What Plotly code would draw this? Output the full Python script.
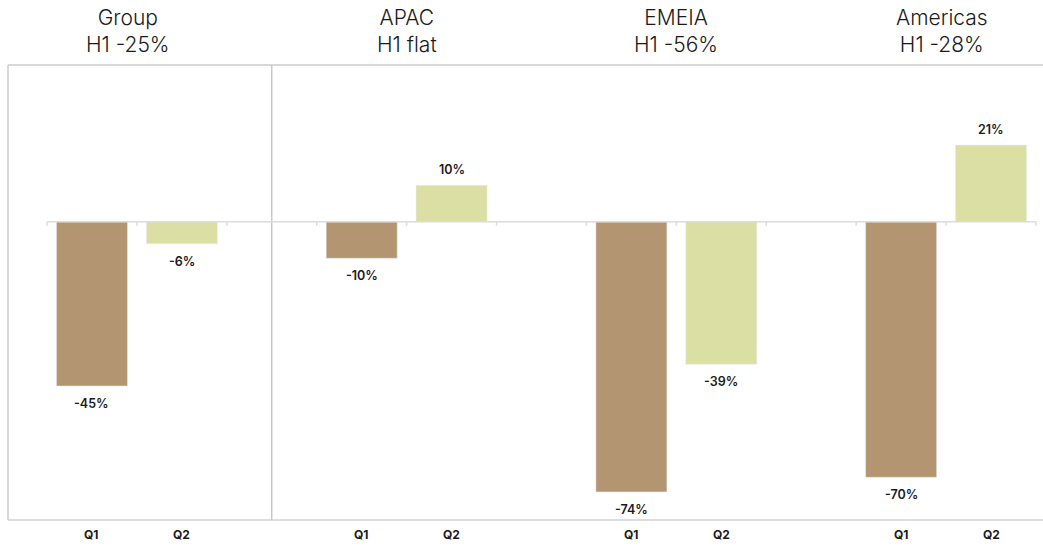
import plotly.graph_objects as go

# Region results by quarter (% change)
regions = ["Group", "APAC", "EMEIA", "Americas"]
h1_labels = ["H1 -25%", "H1 flat", "H1 -56%", "H1 -28%"]
quarters = ["Q1", "Q2"]
q1_values = [-45, -10, -74, -70]
q2_values = [-6, 10, -39, 21]

Q1_COLOR = "#b49571"
Q2_COLOR = "#dbdfa3"
FONT = "Inter"

# each region uses three slots: Q1, Q2 and an empty spacer
slot = 3
x_q1 = [slot * i for i in range(len(regions))]
x_q2 = [slot * i + 1 for i in range(len(regions))]
last = x_q2[-1]

fig = go.Figure()
fig.add_trace(go.Bar(x=x_q1, y=q1_values, marker_color=Q1_COLOR, width=0.79,
                     name="Q1", hoverinfo="y"))
fig.add_trace(go.Bar(x=x_q2, y=q2_values, marker_color=Q2_COLOR, width=0.79,
                     name="Q2", hoverinfo="y"))

annotations = []
# value labels
for xs, vals in ((x_q1, q1_values), (x_q2, q2_values)):
    for x, v in zip(xs, vals):
        annotations.append(dict(
            x=x, y=v, xref="x", yref="y", text=f"{v}%", showarrow=False,
            font=dict(family=FONT, size=12.5, color="#1a1a1a", weight=600),
            yanchor="top" if v < 0 else "bottom",
            yshift=-8 if v < 0 else 6,
        ))
# quarter labels under the axis
for xs, q in ((x_q1, quarters[0]), (x_q2, quarters[1])):
    for x in xs:
        annotations.append(dict(
            x=x, y=0, xref="x", yref="paper", text=q, showarrow=False,
            font=dict(family=FONT, size=12, color="#1a1a1a", weight=700),
            yanchor="middle", yshift=-14,
        ))
# region headers
for i, (r, h) in enumerate(zip(regions, h1_labels)):
    annotations.append(dict(
        x=slot * i + 0.5, y=1, xref="x", yref="paper",
        text=f"{r}<br>{h}", showarrow=False,
        font=dict(family=FONT, size=21, color="#1a1a1a", weight=300),
        yanchor="bottom", yshift=6, align="center",
        xshift=-9 if i == 0 else (-4 if i == len(regions) - 1 else 0),
    ))

shapes = []
frame = "#cccccc"
# chart frame (left, top, bottom)
shapes.append(dict(type="line", xref="paper", yref="paper", x0=0, x1=1, y0=1, y1=1,
                   line=dict(color=frame, width=1.5)))
shapes.append(dict(type="line", xref="paper", yref="paper", x0=0, x1=1, y0=0, y1=0,
                   line=dict(color="#dddddd", width=2)))
shapes.append(dict(type="line", xref="paper", yref="paper", x0=0, x1=0, y0=0, y1=1,
                   line=dict(color=frame, width=1.5)))
# divider between Group and the regions
shapes.append(dict(type="line", xref="x", yref="paper", x0=2, x1=2, y0=0, y1=1,
                   line=dict(color="#bdbdbd", width=1.2)))
# zero axis with category ticks
shapes.append(dict(type="line", xref="x", yref="y", x0=-0.5, x1=last + 0.5, y0=0, y1=0,
                   line=dict(color="#dcdcdc", width=1.5)))
for k in range(last + 2):
    shapes.append(dict(type="line", xref="x", yref="y", ysizemode="pixel", yanchor=0,
                       x0=k - 0.5, x1=k - 0.5, y0=0, y1=-4,
                       line=dict(color="#dcdcdc", width=1.5)))

fig.update_layout(
    width=1043, height=546,
    margin=dict(l=8, r=0, t=65, b=26),
    plot_bgcolor="white", paper_bgcolor="white",
    showlegend=False, barmode="overlay",
    annotations=annotations, shapes=shapes,
    xaxis=dict(range=[-0.934, last + 0.578], showgrid=False, zeroline=False,
               showticklabels=False, showline=False, fixedrange=True),
    yaxis=dict(range=[-81.7, 42.95], showgrid=False, zeroline=False,
               showticklabels=False, showline=False, fixedrange=True),
)

fig.write_html("out.html")
